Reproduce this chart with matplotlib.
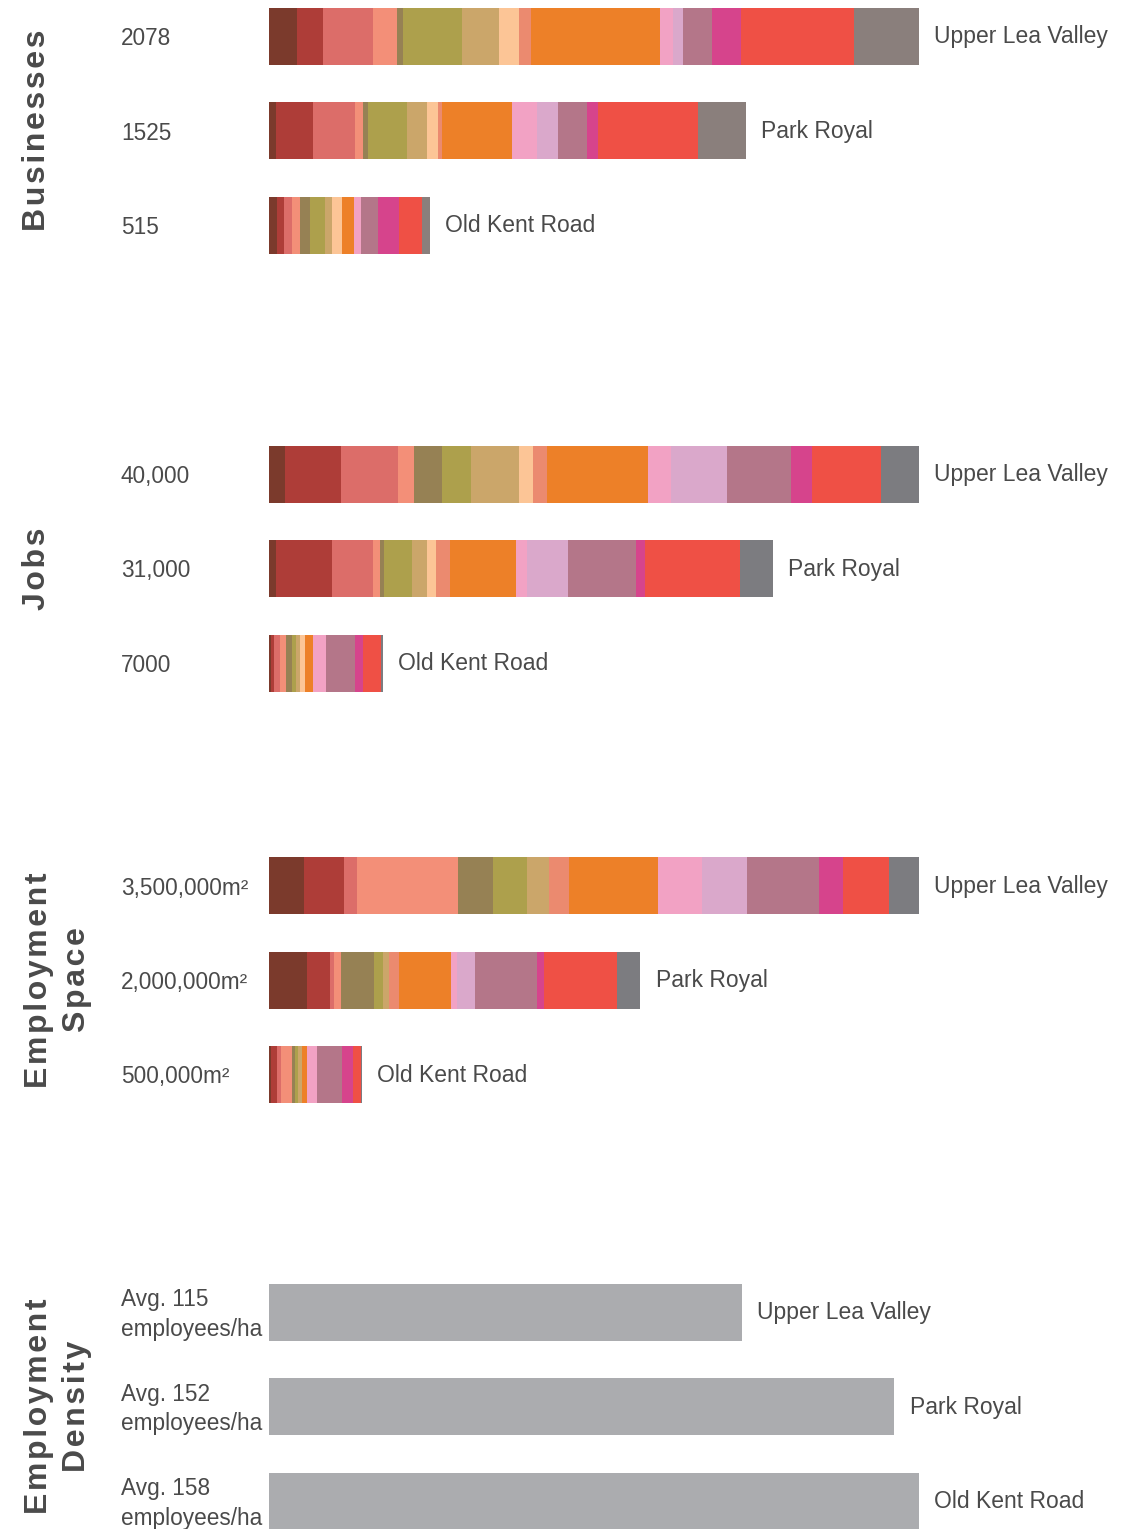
import matplotlib
matplotlib.use("Agg")
import matplotlib.pyplot as plt
import matplotlib.transforms as mtransforms

# ---- data -------------------------------------------------------------
regions = ["Upper Lea Valley", "Park Royal", "Old Kent Road"]

# sector colours (same order in every stacked bar)
sector_colors = ["#7B3A2C", "#AE3D38", "#DC6D69", "#F38F78", "#968154",
                 "#ADA04C", "#CBA66A", "#FCC596", "#EB8A6F", "#ED8028",
                 "#F2A2C4", "#DAA8CB", "#B47689", "#D6448C", "#EF5045",
                 "#7C7C80"]
business_grey = "#8A7F7C"

businesses_ulv = [91, 83, 160, 74, 21, 188, 118, 64, 38, 412, 42, 31, 93, 94, 360, 209]
businesses_pr = [22, 119, 135, 26, 16, 123, 63, 35, 13, 224, 80, 68, 92, 35, 320, 154]
businesses_okr = [25, 22, 28, 25, 31, 47, 25, 31, 0, 37, 22, 0, 57, 66, 74, 25]
businesses_labels = ["2078", "1525", "515"]

jobs_ulv = [1000, 3400, 3550, 1000, 1700, 1750, 3000, 850, 850, 6200, 1450, 3450, 3950, 1250, 4250, 2350]
jobs_pr = [400, 3500, 2500, 400, 250, 1750, 900, 600, 850, 4050, 700, 2500, 4200, 550, 5850, 2000]
jobs_okr = [120, 180, 360, 360, 420, 240, 240, 300, 0, 480, 780, 0, 1840, 480, 1080, 120]
jobs_labels = ["40,000", "31,000", "7000"]

# employment space, thousand m²
space_ulv = [188, 215, 70, 547, 188, 183, 115, 0, 111, 477, 240, 238, 389, 129, 249, 161]
space_pr = [207, 123, 20, 40, 178, 44, 36, 0, 53, 277, 36, 97, 331, 38, 393, 127]
space_okr = [11, 32, 21, 58, 16, 16, 26, 0, 0, 26, 53, 0, 136, 58, 42, 5]
space_labels = ["3,500,000m²", "2,000,000m²", "500,000m²"]

density = [115, 152, 158]
density_labels = ["Avg. 115\nemployees/ha", "Avg. 152\nemployees/ha", "Avg. 158\nemployees/ha"]

panel_titles = ["Businesses", "Jobs", "Employment\nSpace", "Employment\nDensity"]

# ---- layout -----------------------------------------------------------
W, H = 1129, 1529
DPI = 100
TEXT = "#4A4A4A"
BODY_FONT = ["Liberation Sans", "DejaVu Sans"]
TITLE_FONT = ["Liberation Sans", "DejaVu Sans"]

fig = plt.figure(figsize=(W / DPI, H / DPI), dpi=DPI)

bar_left_px, bar_width_px = 269, 650
row_step_px = 94.5
bar_height = 57 / row_step_px
label_drop = 2.5 / row_step_px
first_row_px = [36, 474, 885.5, 1312]


def tracked(text):
    """Open up letter spacing with hair spaces between characters."""
    return "\n".join("\u200a".join(line) for line in text.split("\n"))


def make_axes(first_center):
    top = first_center - row_step_px / 2
    height = 3 * row_step_px
    ax = fig.add_axes([bar_left_px / W, 1 - (top + height) / H,
                       bar_width_px / W, height / H])
    ax.set_ylim(2.5, -0.5)
    ax.axis("off")
    return ax


def decorate(ax, title, left_labels):
    trans = mtransforms.blended_transform_factory(ax.transAxes, ax.transData)
    lx = (121 - bar_left_px) / bar_width_px
    for i, lab in enumerate(left_labels):
        ax.text(lx, i + label_drop, lab, transform=trans, ha="left", va="center",
                fontsize=16.3, color=TEXT, family=BODY_FONT, linespacing=1.35)
    title_x_px = 37 if "\n" not in title else 58
    tx = (title_x_px - bar_left_px) / bar_width_px
    ax.text(tx, 1, tracked(title), transform=trans, ha="center", va="center",
            rotation=90, fontsize=23, fontweight="bold", color=TEXT,
            family=TITLE_FONT, multialignment="center", linespacing=1.38)


def region_labels(ax, totals):
    for i, (tot, name) in enumerate(zip(totals, regions)):
        ax.annotate(name, xy=(tot, i + label_drop * 0.4), xytext=(11, 0),
                    textcoords="offset points", ha="left", va="center",
                    fontsize=16.5, color=TEXT, family=BODY_FONT,
                    annotation_clip=False)


def stacked_panel(first_center, rows, xmax, title, left_labels, grey):
    ax = make_axes(first_center)
    colors = sector_colors[:-1] + [grey]
    for i, row in enumerate(rows):
        left = 0
        for val, col in zip(row, colors):
            if val > 0:
                ax.barh(i, val, left=left, height=bar_height, color=col,
                        linewidth=0)
            left += val
    ax.set_xlim(0, xmax)
    region_labels(ax, [sum(r) for r in rows])
    decorate(ax, title, left_labels)
    return ax


stacked_panel(first_row_px[0], [businesses_ulv, businesses_pr, businesses_okr],
              sum(businesses_ulv), panel_titles[0], businesses_labels, business_grey)
stacked_panel(first_row_px[1], [jobs_ulv, jobs_pr, jobs_okr],
              sum(jobs_ulv), panel_titles[1], jobs_labels, sector_colors[-1])
stacked_panel(first_row_px[2], [space_ulv, space_pr, space_okr],
              sum(space_ulv), panel_titles[2], space_labels, sector_colors[-1])

ax_d = make_axes(first_row_px[3])
ax_d.barh(range(3), density, height=bar_height, color="#ABACAF", linewidth=0)
ax_d.set_xlim(0, max(density))
region_labels(ax_d, density)
decorate(ax_d, panel_titles[3], density_labels)

fig.savefig("out.png", dpi=DPI, facecolor="white")
